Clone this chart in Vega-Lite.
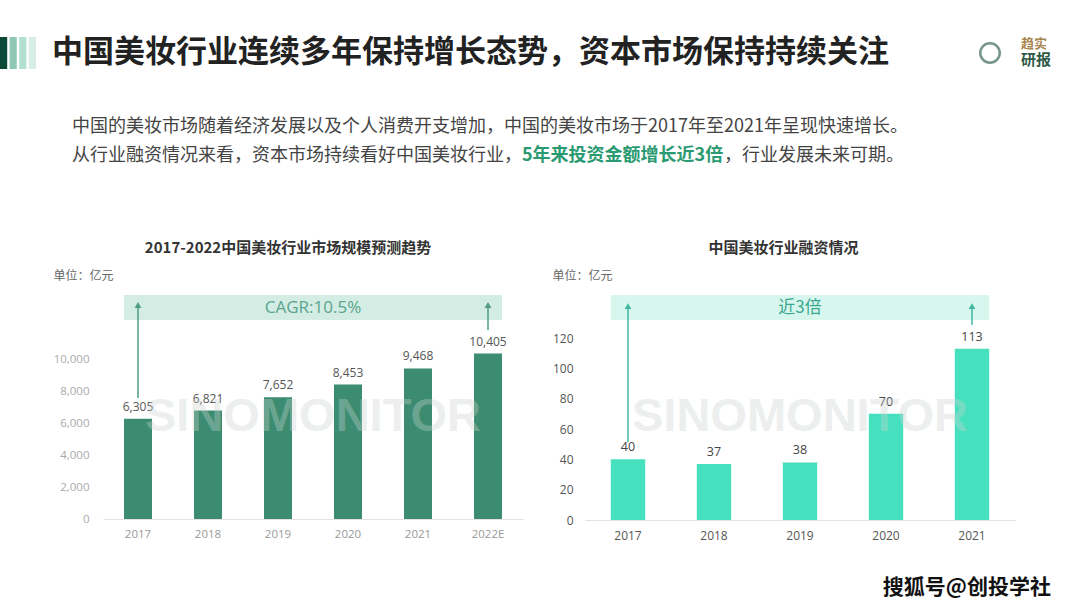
{
  "$schema": "https://vega.github.io/schema/vega-lite/v6.json",
  "background": "white",
  "padding": {"left": 0, "top": 37, "right": 0, "bottom": 8},
  "config": {
    "view": {"stroke": null},
    "font": "Noto Sans CJK SC",
    "axis": {"labelFont": "Open Sans", "titleFont": "Noto Sans CJK SC"}
  },
  "title": {"text": "搜狐号@创投学社", "orient": "bottom", "anchor": "end", "fontSize": 21, "fontWeight": "bold", "color": "#111111", "offset": 36},
  "spacing": 0,
  "vconcat": [
    {
      "spacing": 16,
      "hconcat": [
        {
          "width": 36, "height": 32,
          "data": {"values": [{"k": "a"}, {"k": "b"}, {"k": "c"}, {"k": "d"}]},
          "mark": "rect",
          "encoding": {
            "x": {"field": "k", "type": "nominal", "axis": null, "scale": {"paddingInner": 0.25, "paddingOuter": 0}},
            "color": {"field": "k", "type": "nominal", "legend": null, "scale": {"range": ["#0b4a36", "#8ec8b3", "#b2dfd1", "#d6eee7"]}}
          }
        },
        {
          "width": 907, "height": 1,
          "data": {"values": []},
          "mark": "point",
          "title": {"text": "中国美妆行业连续多年保持增长态势，资本市场保持持续关注", "orient": "bottom", "anchor": "start", "frame": "group", "fontSize": 31, "fontWeight": "bold", "color": "#222222", "offset": 0, "limit": 1200}
        },
        {
          "width": 22, "height": 32,
          "data": {"values": [{"logo": "Q"}]},
          "mark": {"type": "point", "shape": "circle", "size": 380, "filled": false, "stroke": "#3d6a55", "strokeWidth": 2.5}
        },
        {
          "width": 1, "height": 1,
          "data": {"values": []},
          "mark": "point",
          "title": {"text": "趋实", "subtitle": "研报", "orient": "bottom", "anchor": "start", "frame": "group", "fontSize": 13, "fontWeight": "bold", "color": "#a8864f", "subtitleFontSize": 15, "subtitleFontWeight": "bold", "subtitleColor": "#2f5a48", "subtitlePadding": 2, "offset": 0, "limit": 200}
        }
      ]
    },
    {"width": 10, "height": 49, "data": {"values": []}, "mark": "point"},
    {
      "width": 1000, "height": 11,
      "data": {"values": []},
      "mark": "point",
      "title": {"text": "中国的美妆市场随着经济发展以及个人消费开支增加，中国的美妆市场于2017年至2021年呈现快速增长。", "anchor": "start", "frame": "group", "dx": 72, "fontSize": 18, "fontWeight": "normal", "color": "#444444", "offset": 0, "limit": 1200}
    },
    {
      "spacing": 0,
      "hconcat": [
        {
          "width": 1, "height": 76,
          "data": {"values": []},
          "mark": "point",
          "title": {"text": "从行业融资情况来看，资本市场持续看好中国美妆行业，", "anchor": "start", "frame": "group", "dx": 72, "fontSize": 18, "fontWeight": "normal", "color": "#444444", "offset": 0, "limit": 1200}
        },
        {
          "width": 1, "height": 76,
          "data": {"values": []},
          "mark": "point",
          "title": {"text": "5年来投资金额增长近3倍", "anchor": "start", "frame": "group", "fontSize": 18, "fontWeight": "bold", "color": "#2a9a72", "offset": 0, "limit": 1200}
        },
        {
          "width": 1, "height": 76,
          "data": {"values": []},
          "mark": "point",
          "title": {"text": "，行业发展未来可期。", "anchor": "start", "frame": "group", "fontSize": 18, "fontWeight": "normal", "color": "#444444", "offset": 0, "limit": 1200}
        }
      ]
    },
    {
      "spacing": 20,
      "hconcat": [
        {"width": 33, "height": 10, "data": {"values": []}, "mark": "point"},
        {
          "spacing": 29,
          "hconcat": [
            {
              "width": 420, "height": 224,
              "title": {"text": "2017-2022中国美妆行业市场规模预测趋势", "fontSize": 15, "fontWeight": "bold", "color": "#333333", "offset": 13, "anchor": "middle", "frame": "bounds"},
              "data": {"values": [
                {"year": "2017", "value": 6305},
                {"year": "2018", "value": 6821},
                {"year": "2019", "value": 7652},
                {"year": "2020", "value": 8453},
                {"year": "2021", "value": 9468},
                {"year": "2022E", "value": 10405}
              ]},
              "layer": [
                {
                  "mark": {"type": "bar", "color": "#3b8c71"},
                  "encoding": {
                    "x": {"field": "year", "type": "nominal", "sort": null, "scale": {"domain": ["2017", "2018", "2019", "2020", "2021", "2022E"], "paddingInner": 0.6, "paddingOuter": 0.3},
                      "axis": {"title": null, "labelAngle": 0, "labelColor": "#999999", "labelFontSize": 11.5, "labelPadding": 9, "ticks": false, "domainColor": "#e2e2e2", "grid": false}},
                    "y": {"field": "value", "type": "quantitative", "scale": {"domain": [0, 14088], "nice": false},
                      "axis": {"title": "单位：亿元", "titleAngle": 0, "titleAlign": "left", "titleBaseline": "middle", "titleX": -50, "titleY": -20, "titleFontWeight": "normal", "titleFontSize": 12, "titleColor": "#666666",
                        "values": [0, 2000, 4000, 6000, 8000, 10000], "labelExpr": "format(datum.value, ',')", "labelColor": "#aaaaaa", "labelFontSize": 11.5, "labelPadding": 14, "ticks": false, "domain": false, "grid": false}}
                  }
                },
                {
                  "mark": {"type": "text", "baseline": "bottom", "dy": -5, "fontSize": 12, "color": "#555555", "font": "Open Sans"},
                  "encoding": {
                    "x": {"field": "year", "type": "nominal", "sort": null, "scale": {"domain": ["2017", "2018", "2019", "2020", "2021", "2022E"], "paddingInner": 0.6, "paddingOuter": 0.3},
                      "axis": {"title": null, "labelAngle": 0, "labelColor": "#999999", "labelFontSize": 11.5, "labelPadding": 9, "ticks": false, "domainColor": "#e2e2e2", "grid": false}},
                    "y": {"field": "value", "type": "quantitative", "scale": {"domain": [0, 14088], "nice": false},
                      "axis": {"title": "单位：亿元", "titleAngle": 0, "titleAlign": "left", "titleBaseline": "middle", "titleX": -50, "titleY": -20, "titleFontWeight": "normal", "titleFontSize": 12, "titleColor": "#666666",
                        "values": [0, 2000, 4000, 6000, 8000, 10000], "labelExpr": "format(datum.value, ',')", "labelColor": "#aaaaaa", "labelFontSize": 11.5, "labelPadding": 14, "ticks": false, "domain": false, "grid": false}},
                    "text": {"field": "value", "type": "quantitative", "format": ","}
                  }
                },
                {
                  "data": {"values": [{"band": "CAGR"}]},
                  "mark": {"type": "rect", "color": "#d3ece4"},
                  "encoding": {
                    "x": {"datum": "2017", "type": "nominal", "bandPosition": 0, "scale": {"domain": ["2017", "2018", "2019", "2020", "2021", "2022E"], "paddingInner": 0.6, "paddingOuter": 0.3},
                      "axis": {"title": null, "labelAngle": 0, "labelColor": "#999999", "labelFontSize": 11.5, "labelPadding": 9, "ticks": false, "domainColor": "#e2e2e2", "grid": false}},
                    "x2": {"datum": "2022E", "bandPosition": 1},
                    "y": {"datum": 12516, "type": "quantitative", "scale": {"domain": [0, 14088], "nice": false},
                      "axis": {"title": "单位：亿元", "titleAngle": 0, "titleAlign": "left", "titleBaseline": "middle", "titleX": -50, "titleY": -20, "titleFontWeight": "normal", "titleFontSize": 12, "titleColor": "#666666",
                        "values": [0, 2000, 4000, 6000, 8000, 10000], "labelExpr": "format(datum.value, ',')", "labelColor": "#aaaaaa", "labelFontSize": 11.5, "labelPadding": 14, "ticks": false, "domain": false, "grid": false}},
                    "y2": {"datum": 14088}
                  }
                },
                {
                  "data": {"values": [{"year": "2017", "from": 7610, "to": 13396}, {"year": "2022E", "from": 11887, "to": 13396}]},
                  "mark": {"type": "rule", "color": "#4f9c84", "strokeWidth": 1.5},
                  "encoding": {
                    "x": {"field": "year", "type": "nominal", "sort": null, "scale": {"domain": ["2017", "2018", "2019", "2020", "2021", "2022E"], "paddingInner": 0.6, "paddingOuter": 0.3},
                      "axis": {"title": null, "labelAngle": 0, "labelColor": "#999999", "labelFontSize": 11.5, "labelPadding": 9, "ticks": false, "domainColor": "#e2e2e2", "grid": false}},
                    "y": {"field": "from", "type": "quantitative", "scale": {"domain": [0, 14088], "nice": false},
                      "axis": {"title": "单位：亿元", "titleAngle": 0, "titleAlign": "left", "titleBaseline": "middle", "titleX": -50, "titleY": -20, "titleFontWeight": "normal", "titleFontSize": 12, "titleColor": "#666666",
                        "values": [0, 2000, 4000, 6000, 8000, 10000], "labelExpr": "format(datum.value, ',')", "labelColor": "#aaaaaa", "labelFontSize": 11.5, "labelPadding": 14, "ticks": false, "domain": false, "grid": false}},
                    "y2": {"field": "to"}
                  }
                },
                {
                  "data": {"values": [{"year": "2017", "tip": 13459}, {"year": "2022E", "tip": 13459}]},
                  "mark": {"type": "point", "shape": "triangle-up", "size": 45, "filled": true, "color": "#4f9c84", "opacity": 1},
                  "encoding": {
                    "x": {"field": "year", "type": "nominal", "sort": null, "scale": {"domain": ["2017", "2018", "2019", "2020", "2021", "2022E"], "paddingInner": 0.6, "paddingOuter": 0.3},
                      "axis": {"title": null, "labelAngle": 0, "labelColor": "#999999", "labelFontSize": 11.5, "labelPadding": 9, "ticks": false, "domainColor": "#e2e2e2", "grid": false}},
                    "y": {"field": "tip", "type": "quantitative", "scale": {"domain": [0, 14088], "nice": false},
                      "axis": {"title": "单位：亿元", "titleAngle": 0, "titleAlign": "left", "titleBaseline": "middle", "titleX": -50, "titleY": -20, "titleFontWeight": "normal", "titleFontSize": 12, "titleColor": "#666666",
                        "values": [0, 2000, 4000, 6000, 8000, 10000], "labelExpr": "format(datum.value, ',')", "labelColor": "#aaaaaa", "labelFontSize": 11.5, "labelPadding": 14, "ticks": false, "domain": false, "grid": false}}
                  }
                },
                {
                  "data": {"values": [{"label": "CAGR:10.5%"}]},
                  "mark": {"type": "text", "fontSize": 17, "color": "#5aa58c", "baseline": "middle", "font": "Open Sans"},
                  "encoding": {
                    "text": {"field": "label"},
                    "y": {"datum": 13270, "type": "quantitative", "scale": {"domain": [0, 14088], "nice": false},
                      "axis": {"title": "单位：亿元", "titleAngle": 0, "titleAlign": "left", "titleBaseline": "middle", "titleX": -50, "titleY": -20, "titleFontWeight": "normal", "titleFontSize": 12, "titleColor": "#666666",
                        "values": [0, 2000, 4000, 6000, 8000, 10000], "labelExpr": "format(datum.value, ',')", "labelColor": "#aaaaaa", "labelFontSize": 11.5, "labelPadding": 14, "ticks": false, "domain": false, "grid": false}}
                  }
                },
                {
                  "data": {"values": [{"wm": "SINOMONITOR"}]},
                  "mark": {"type": "text", "fontSize": 47, "fontWeight": "bold", "font": "Liberation Sans", "color": "#c9d3cf", "opacity": 0.35, "baseline": "middle"},
                  "encoding": {
                    "text": {"field": "wm"},
                    "y": {"datum": 6415, "type": "quantitative", "scale": {"domain": [0, 14088], "nice": false},
                      "axis": {"title": "单位：亿元", "titleAngle": 0, "titleAlign": "left", "titleBaseline": "middle", "titleX": -50, "titleY": -20, "titleFontWeight": "normal", "titleFontSize": 12, "titleColor": "#666666",
                        "values": [0, 2000, 4000, 6000, 8000, 10000], "labelExpr": "format(datum.value, ',')", "labelColor": "#aaaaaa", "labelFontSize": 11.5, "labelPadding": 14, "ticks": false, "domain": false, "grid": false}}
                  }
                }
              ]
            },
            {
              "width": 430, "height": 225,
              "title": {"text": "中国美妆行业融资情况", "fontSize": 15, "fontWeight": "bold", "color": "#333333", "offset": 13, "anchor": "middle", "frame": "bounds"},
              "data": {"values": [
                {"year": "2017", "value": 40},
                {"year": "2018", "value": 37},
                {"year": "2019", "value": 38},
                {"year": "2020", "value": 70},
                {"year": "2021", "value": 113}
              ]},
              "layer": [
                {
                  "mark": {"type": "bar", "color": "#47e0bf"},
                  "encoding": {
                    "x": {"field": "year", "type": "nominal", "sort": null, "scale": {"domain": ["2017", "2018", "2019", "2020", "2021"], "paddingInner": 0.6, "paddingOuter": 0.3},
                      "axis": {"title": null, "labelAngle": 0, "labelColor": "#555555", "labelFontSize": 12, "labelPadding": 10, "ticks": false, "domainColor": "#e2e2e2", "grid": false}},
                    "y": {"field": "value", "type": "quantitative", "scale": {"domain": [0, 148.4], "nice": false},
                      "axis": {"title": "单位：亿元", "titleAngle": 0, "titleAlign": "left", "titleBaseline": "middle", "titleX": -33, "titleY": -20, "titleFontWeight": "normal", "titleFontSize": 12, "titleColor": "#666666",
                        "values": [0, 20, 40, 60, 80, 100, 120], "labelColor": "#555555", "labelFontSize": 12, "labelPadding": 12, "ticks": false, "domain": false, "grid": false}}
                  }
                },
                {
                  "mark": {"type": "text", "baseline": "bottom", "dy": -5, "fontSize": 12.5, "color": "#444444", "font": "Open Sans"},
                  "encoding": {
                    "x": {"field": "year", "type": "nominal", "sort": null, "scale": {"domain": ["2017", "2018", "2019", "2020", "2021"], "paddingInner": 0.6, "paddingOuter": 0.3},
                      "axis": {"title": null, "labelAngle": 0, "labelColor": "#555555", "labelFontSize": 12, "labelPadding": 10, "ticks": false, "domainColor": "#e2e2e2", "grid": false}},
                    "y": {"field": "value", "type": "quantitative", "scale": {"domain": [0, 148.4], "nice": false},
                      "axis": {"title": "单位：亿元", "titleAngle": 0, "titleAlign": "left", "titleBaseline": "middle", "titleX": -33, "titleY": -20, "titleFontWeight": "normal", "titleFontSize": 12, "titleColor": "#666666",
                        "values": [0, 20, 40, 60, 80, 100, 120], "labelColor": "#555555", "labelFontSize": 12, "labelPadding": 12, "ticks": false, "domain": false, "grid": false}},
                    "text": {"field": "value", "type": "quantitative"}
                  }
                },
                {
                  "data": {"values": [{"band": "3x"}]},
                  "mark": {"type": "rect", "color": "#d7f6ee"},
                  "encoding": {
                    "x": {"datum": "2017", "type": "nominal", "bandPosition": 0, "scale": {"domain": ["2017", "2018", "2019", "2020", "2021"], "paddingInner": 0.6, "paddingOuter": 0.3},
                      "axis": {"title": null, "labelAngle": 0, "labelColor": "#555555", "labelFontSize": 12, "labelPadding": 10, "ticks": false, "domainColor": "#e2e2e2", "grid": false}},
                    "x2": {"datum": "2021", "bandPosition": 1},
                    "y": {"datum": 131.9, "type": "quantitative", "scale": {"domain": [0, 148.4], "nice": false},
                      "axis": {"title": "单位：亿元", "titleAngle": 0, "titleAlign": "left", "titleBaseline": "middle", "titleX": -33, "titleY": -20, "titleFontWeight": "normal", "titleFontSize": 12, "titleColor": "#666666",
                        "values": [0, 20, 40, 60, 80, 100, 120], "labelColor": "#555555", "labelFontSize": 12, "labelPadding": 12, "ticks": false, "domain": false, "grid": false}},
                    "y2": {"datum": 148.4}
                  }
                },
                {
                  "data": {"values": [{"year": "2017", "from": 51.4, "to": 140.4}, {"year": "2021", "from": 128.6, "to": 140.4}]},
                  "mark": {"type": "rule", "color": "#3fb9a1", "strokeWidth": 1.5},
                  "encoding": {
                    "x": {"field": "year", "type": "nominal", "sort": null, "scale": {"domain": ["2017", "2018", "2019", "2020", "2021"], "paddingInner": 0.6, "paddingOuter": 0.3},
                      "axis": {"title": null, "labelAngle": 0, "labelColor": "#555555", "labelFontSize": 12, "labelPadding": 10, "ticks": false, "domainColor": "#e2e2e2", "grid": false}},
                    "y": {"field": "from", "type": "quantitative", "scale": {"domain": [0, 148.4], "nice": false},
                      "axis": {"title": "单位：亿元", "titleAngle": 0, "titleAlign": "left", "titleBaseline": "middle", "titleX": -33, "titleY": -20, "titleFontWeight": "normal", "titleFontSize": 12, "titleColor": "#666666",
                        "values": [0, 20, 40, 60, 80, 100, 120], "labelColor": "#555555", "labelFontSize": 12, "labelPadding": 12, "ticks": false, "domain": false, "grid": false}},
                    "y2": {"field": "to"}
                  }
                },
                {
                  "data": {"values": [{"year": "2017", "tip": 141.1}, {"year": "2021", "tip": 141.1}]},
                  "mark": {"type": "point", "shape": "triangle-up", "size": 45, "filled": true, "color": "#3fb9a1", "opacity": 1},
                  "encoding": {
                    "x": {"field": "year", "type": "nominal", "sort": null, "scale": {"domain": ["2017", "2018", "2019", "2020", "2021"], "paddingInner": 0.6, "paddingOuter": 0.3},
                      "axis": {"title": null, "labelAngle": 0, "labelColor": "#555555", "labelFontSize": 12, "labelPadding": 10, "ticks": false, "domainColor": "#e2e2e2", "grid": false}},
                    "y": {"field": "tip", "type": "quantitative", "scale": {"domain": [0, 148.4], "nice": false},
                      "axis": {"title": "单位：亿元", "titleAngle": 0, "titleAlign": "left", "titleBaseline": "middle", "titleX": -33, "titleY": -20, "titleFontWeight": "normal", "titleFontSize": 12, "titleColor": "#666666",
                        "values": [0, 20, 40, 60, 80, 100, 120], "labelColor": "#555555", "labelFontSize": 12, "labelPadding": 12, "ticks": false, "domain": false, "grid": false}}
                  }
                },
                {
                  "data": {"values": [{"label": "近3倍"}]},
                  "mark": {"type": "text", "fontSize": 17, "color": "#3aa88e", "baseline": "middle"},
                  "encoding": {
                    "text": {"field": "label"},
                    "y": {"datum": 139.8, "type": "quantitative", "scale": {"domain": [0, 148.4], "nice": false},
                      "axis": {"title": "单位：亿元", "titleAngle": 0, "titleAlign": "left", "titleBaseline": "middle", "titleX": -33, "titleY": -20, "titleFontWeight": "normal", "titleFontSize": 12, "titleColor": "#666666",
                        "values": [0, 20, 40, 60, 80, 100, 120], "labelColor": "#555555", "labelFontSize": 12, "labelPadding": 12, "ticks": false, "domain": false, "grid": false}}
                  }
                },
                {
                  "data": {"values": [{"wm": "SINOMONITOR"}]},
                  "mark": {"type": "text", "fontSize": 47, "fontWeight": "bold", "font": "Liberation Sans", "color": "#c9d3cf", "opacity": 0.35, "baseline": "middle"},
                  "encoding": {
                    "text": {"field": "wm"},
                    "y": {"datum": 68, "type": "quantitative", "scale": {"domain": [0, 148.4], "nice": false},
                      "axis": {"title": "单位：亿元", "titleAngle": 0, "titleAlign": "left", "titleBaseline": "middle", "titleX": -33, "titleY": -20, "titleFontWeight": "normal", "titleFontSize": 12, "titleColor": "#666666",
                        "values": [0, 20, 40, 60, 80, 100, 120], "labelColor": "#555555", "labelFontSize": 12, "labelPadding": 12, "ticks": false, "domain": false, "grid": false}}
                  }
                }
              ]
            }
          ]
        }
      ]
    }
  ]
}
